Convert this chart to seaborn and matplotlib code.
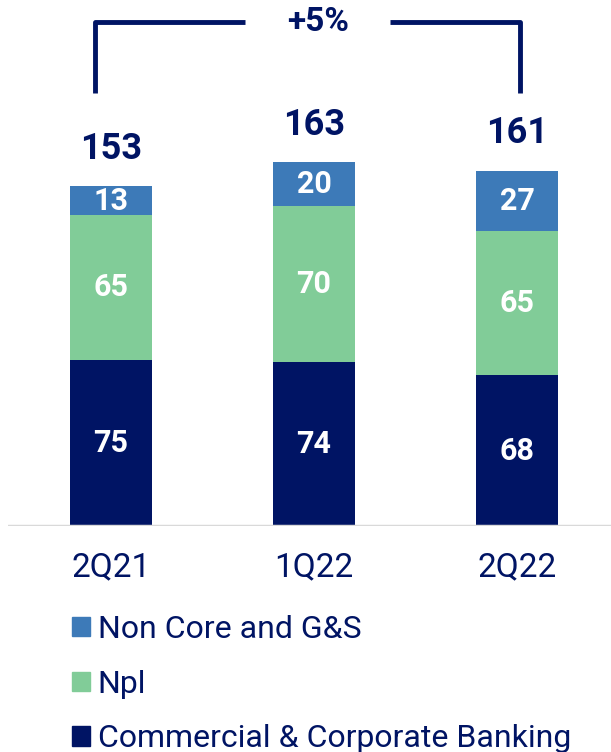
import matplotlib
matplotlib.use("Agg")
from matplotlib import pyplot as plt
from matplotlib.patches import Patch
import numpy as np
import pandas as pd
import seaborn as sns

quarters = ["2Q21", "1Q22", "2Q22"]
commercial = [75, 74, 68]
npl = [65, 70, 65]
non_core = [13, 20, 27]
totals = [153, 163, 161]
growth_label = "+5%"

series_names = ["Non Core and G&S", "Npl", "Commercial & Corporate Banking"]

navy = "#001464"
green = "#81CC98"
blue = "#3D7AB8"

sns.set_theme(style="white")
plt.rcParams['font.family'] = ['Roboto', 'DejaVu Sans']

df = pd.DataFrame({"quarter": quarters, "cc": commercial, "npl": npl, "nc": non_core})
df["lvl2"] = df["cc"] + df["npl"]
df["lvl3"] = df["lvl2"] + df["nc"]

W, H = 611, 752
fig = plt.figure(figsize=(W / 100, H / 100), dpi=100)
# axes: from x=8px to right edge, baseline at y=526px up to top
ax = fig.add_axes([8 / W, (H - 526) / H, 1 - 8 / W, 526 / H])

# stacked bars drawn as overlapping cumulative bars
for col, c in [("lvl3", blue), ("lvl2", green), ("cc", navy)]:
    sns.barplot(data=df, x="quarter", y=col, color=c, width=0.4, ax=ax,
                saturation=1, linewidth=0)

ax.set_xlim(-0.507, 2.463)
ax.set_ylim(0, 237)
for s in ax.spines.values():
    s.set_visible(False)
ax.axhline(0, color="#D9D9D9", lw=2.5, zorder=5)
ax.set_xlabel("")
ax.set_ylabel("")
ax.set_yticks([])
ax.tick_params(axis="x", length=0, pad=18, labelsize=24, labelcolor=navy)

# segment labels
for i in range(len(quarters)):
    bottoms = [0, df["cc"][i], df["lvl2"][i]]
    vals = [df["cc"][i], df["npl"][i], df["nc"][i]]
    for b, v in zip(bottoms, vals):
        ax.text(i, b + v / 2, str(v), ha="center", va="center", color="white",
                fontsize=22, fontweight="bold")
    ax.annotate(str(totals[i]), (i, df["lvl3"][i]), xytext=(0, 27),
                textcoords="offset points", ha="center", va="center",
                color=navy, fontsize=26, fontweight="bold")

# growth bracket
x0, x1 = 0 - 0.08, 2 + 0.015
ytop, ybot = 227, 195
ax.plot([x0, x0, 0.66], [ybot, ytop, ytop], color=navy, lw=3.5, solid_capstyle="butt",
        clip_on=False)
ax.plot([1.374, x1, x1], [ytop, ytop, ybot], color=navy, lw=3.5, solid_capstyle="butt",
        clip_on=False)
ax.text(1.02, ytop, growth_label, ha="center", va="center", color=navy,
        fontsize=24, fontweight="bold")

handles = [Patch(color=blue), Patch(color=green), Patch(color=navy)]
leg = fig.legend(handles, series_names, loc="upper left",
                 bbox_to_anchor=(72 / W, 1 - 615 / H), frameon=False,
                 fontsize=23, handlelength=0.56, handleheight=0.56,
                 handletextpad=0.25, labelspacing=0.8, borderpad=0, borderaxespad=0)
for t in leg.get_texts():
    t.set_color(navy)

fig.savefig("out.png", dpi=100)
